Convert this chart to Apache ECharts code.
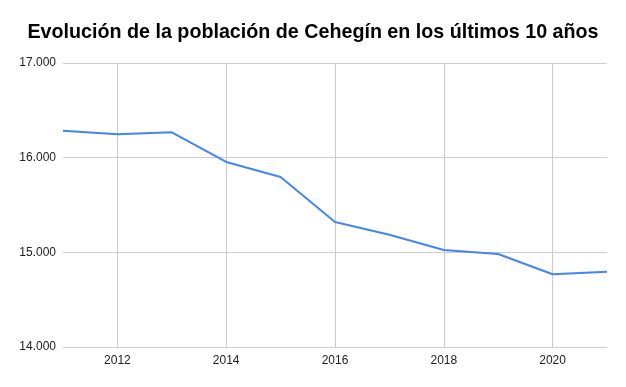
<!DOCTYPE html>
<html><head><meta charset="utf-8">
<script src="https://cdn.jsdelivr.net/npm/echarts@6/dist/echarts.min.js"></script>
<style>html,body{margin:0;padding:0;background:#fff}#c{width:626px;height:387px}</style>
</head><body><div id="c"></div>
<script>
const years = ['2011','2012','2013','2014','2015','2016','2017','2018','2019','2020','2021'];
const population = [16285,16247,16268,15955,15795,15320,15185,15024,14982,14768,14796];
const titleText = 'Evolución de la población de Cehegín en los últimos 10 años';

const chart = echarts.init(document.getElementById('c'));
const evenYear = (idx) => idx % 2 === 1;
chart.setOption({
  animation: false,
  backgroundColor: '#fff',
  title: {
    text: titleText, left: 'center', top: 18,
    textStyle: {fontFamily: 'Liberation Sans, Arial', fontSize: 19.7, fontWeight: 'bold', color: '#000'}
  },
  grid: {left: 63, right: 19, top: 63, bottom: 40},
  xAxis: {
    type: 'category', data: years, boundaryGap: false,
    axisLine: {show: false}, axisTick: {show: false},
    splitLine: {show: true, interval: evenYear, lineStyle: {color: '#cccccc'}},
    axisLabel: {
      color: '#222', fontFamily: 'Liberation Sans, Arial', fontSize: 12, margin: 8,
      interval: evenYear
    }
  },
  yAxis: {
    type: 'value', min: 14000, max: 17000, interval: 1000,
    axisLine: {show: false}, axisTick: {show: false},
    splitLine: {lineStyle: {color: '#cccccc'}},
    axisLabel: {
      color: '#222', fontFamily: 'Liberation Sans, Arial', fontSize: 12, margin: 7,
      formatter: v => String(v).replace(/\B(?=(\d{3})+(?!\d))/g, '.')
    }
  },
  series: [{
    type: 'line', data: population,
    symbol: 'none', lineStyle: {color: '#4285f4', width: 2}
  }]
});
</script></body></html>
